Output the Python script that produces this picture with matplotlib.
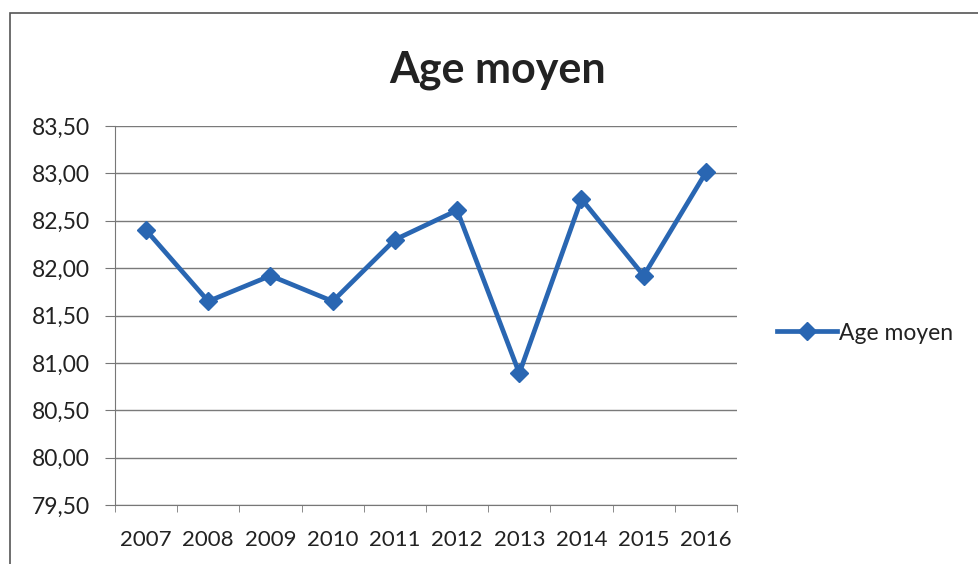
import matplotlib
matplotlib.use("Agg")
import matplotlib.pyplot as plt
from matplotlib.patches import Rectangle
from matplotlib.ticker import FuncFormatter, FixedLocator

years = ["2007", "2008", "2009", "2010", "2011", "2012", "2013", "2014", "2015", "2016"]
age_moyen = [82.40, 81.65, 81.92, 81.65, 82.30, 82.61, 80.89, 82.73, 81.92, 83.01]
series_name = "Age moyen"
title = "Age moyen"

plt.rcParams['font.family'] = ['Lato', 'DejaVu Sans']

fig = plt.figure(figsize=(9.79, 5.64), dpi=100)
fig.patches.append(Rectangle((10/979, -0.01), 1.0, 1 - 13/564 + 0.01, transform=fig.transFigure,
                             fill=False, edgecolor='#555555', linewidth=1.2))

ax = fig.add_axes([115/979, 1 - 505/564, (737 - 115)/979, (505 - 126)/564])
x = list(range(len(years)))
color = '#2966b2'
line, = ax.plot(x, age_moyen, color=color, linewidth=3.4, marker='D', markersize=9.5,
                markerfacecolor=color, markeredgecolor=color, label=series_name)

ax.set_xlim(-0.5, len(years) - 0.5)
ax.set_ylim(79.5, 83.5)
yt = [79.5 + 0.5 * i for i in range(9)]
ax.set_yticks(yt)
ax.yaxis.set_major_formatter(FuncFormatter(lambda v, p: f"{v:.2f}".replace('.', ',')))
ax.set_xticks(x)
ax.set_xticklabels(years)
ax.xaxis.set_minor_locator(FixedLocator([i - 0.5 for i in range(len(years) + 1)]))
ax.tick_params(axis='x', which='major', length=0, pad=18, labelsize=16, colors='#222222')
ax.tick_params(axis='x', which='minor', length=5, direction='out', color='#777777')
ax.tick_params(axis='y', length=7, direction='out', color='#777777', labelsize=16.5, pad=11, labelcolor='#222222')
ax.grid(axis='y', color='#7a7a7a', linewidth=1.0)
ax.set_axisbelow(True)
for s in ['top', 'right']:
    ax.spines[s].set_visible(False)
ax.spines['left'].set_color('#777777')
ax.spines['bottom'].set_color('#777777')

fig.text(498/979, 1 - 83/564, title, ha='center', va='baseline', fontsize=31, fontweight='bold', color='#222222')

leg = fig.legend(handles=[line], loc='center left', bbox_to_anchor=(766/979, 1 - 333/564),
                 frameon=False, fontsize=16.5, handlelength=2.6, handletextpad=0.1, borderpad=0)
for t in leg.get_texts():
    t.set_color('#222222')

fig.savefig("out.png", dpi=100)
